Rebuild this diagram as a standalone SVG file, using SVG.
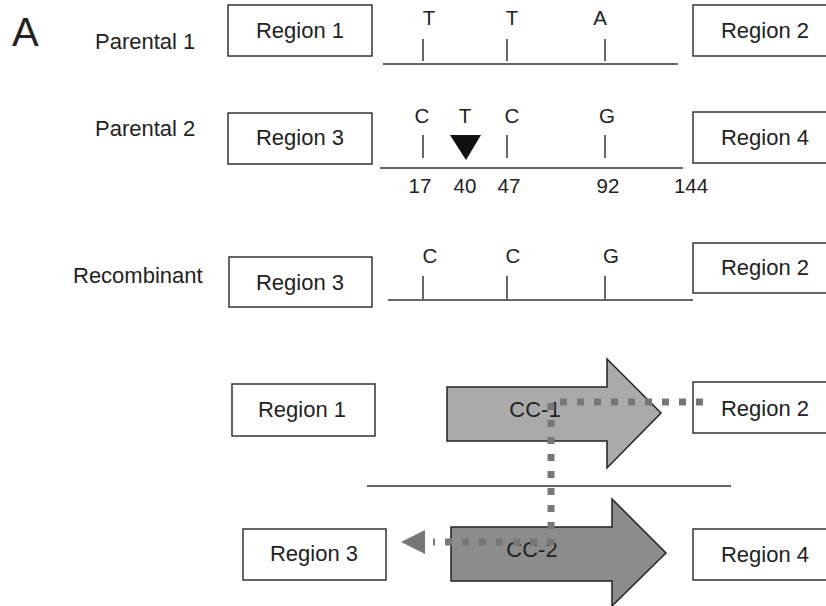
<svg xmlns="http://www.w3.org/2000/svg" width="826" height="606" viewBox="0 0 826 606">
<style>
text{font-family:"Liberation Sans",Arial,sans-serif;fill:#222}
.lbl{font-size:22px}
.reg{font-size:22px;text-anchor:middle}
.nt{font-size:20.5px;text-anchor:middle}
.box{fill:#fff;stroke:#333;stroke-width:1.5}
.ln{stroke:#333;stroke-width:1.5;fill:none}
.dot{stroke:#777;stroke-width:7;stroke-dasharray:7 10;fill:none}
</style>
<rect width="826" height="606" fill="#fff"/>
<text x="12" y="46" style="font-size:40px">A</text>

<g id="row-p1">
<text class="lbl" x="95" y="49">Parental 1</text>
<g id="p1-region1"><rect class="box" x="228" y="5" width="144" height="51"/><text class="reg" x="300" y="38">Region 1</text></g>
<line class="ln" x1="383" y1="64" x2="678" y2="64"/>
<line class="ln" x1="423" y1="39" x2="423" y2="61"/>
<line class="ln" x1="507" y1="39" x2="507" y2="61"/>
<line class="ln" x1="605" y1="39" x2="605" y2="61"/>
<text class="nt" x="429" y="25">T</text>
<text class="nt" x="512" y="25">T</text>
<text class="nt" x="600" y="25">A</text>
<g id="p1-region2"><rect class="box" x="693" y="5" width="140" height="51"/><text class="reg" x="765" y="38">Region 2</text></g>
</g>

<g id="row-p2">
<text class="lbl" x="95" y="136">Parental 2</text>
<g id="p2-region3"><rect class="box" x="228" y="113" width="144" height="51"/><text class="reg" x="300" y="145">Region 3</text></g>
<line class="ln" x1="380" y1="168" x2="683" y2="168"/>
<line class="ln" x1="423" y1="135" x2="423" y2="158"/>
<line class="ln" x1="507" y1="135" x2="507" y2="158"/>
<line class="ln" x1="605" y1="135" x2="605" y2="158"/>
<polygon points="450,135 481,135 466,160" fill="#111"/>
<text class="nt" x="422" y="123">C</text>
<text class="nt" x="465" y="123">T</text>
<text class="nt" x="512" y="123">C</text>
<text class="nt" x="607" y="123">G</text>
<text class="nt" x="420" y="193">17</text>
<text class="nt" x="465" y="193">40</text>
<text class="nt" x="509" y="193">47</text>
<text class="nt" x="608" y="193">92</text>
<text class="nt" x="691" y="193">144</text>
<g id="p2-region4"><rect class="box" x="693" y="112" width="140" height="51"/><text class="reg" x="765" y="145">Region 4</text></g>
</g>

<g id="row-rec">
<text class="lbl" x="73" y="283">Recombinant</text>
<g id="rec-region3"><rect class="box" x="229" y="257" width="143" height="50"/><text class="reg" x="300" y="290">Region 3</text></g>
<line class="ln" x1="388" y1="300" x2="693" y2="300"/>
<line class="ln" x1="423" y1="276" x2="423" y2="299"/>
<line class="ln" x1="507" y1="276" x2="507" y2="299"/>
<line class="ln" x1="605" y1="276" x2="605" y2="299"/>
<text class="nt" x="430" y="263">C</text>
<text class="nt" x="513" y="263">C</text>
<text class="nt" x="611" y="263">G</text>
<g id="rec-region2"><rect class="box" x="693" y="243" width="140" height="50"/><text class="reg" x="765" y="275">Region 2</text></g>
</g>

<g id="b-region1"><rect class="box" x="232" y="384" width="143" height="52"/><text class="reg" x="302" y="417">Region 1</text></g>
<g id="b-region2"><rect class="box" x="693" y="382" width="140" height="51"/><text class="reg" x="765" y="416">Region 2</text></g>
<g id="b-region3"><rect class="box" x="243" y="529" width="143" height="51"/><text class="reg" x="314" y="561">Region 3</text></g>
<g id="b-region4"><rect class="box" x="693" y="529" width="140" height="51"/><text class="reg" x="765" y="562">Region 4</text></g>

<line class="ln" x1="367" y1="486" x2="731" y2="486"/>

<g id="cc1">
<polygon points="447,387 607,387 607,359 661,413 607,468 607,441 447,441" fill="#aaa" stroke="#222" stroke-width="1.5"/>
<text class="reg" x="535" y="417">CC-1</text>
</g>
<g id="cc2">
<polygon points="451,527 612,527 612,499 666,553 612,606 612,581 451,581" fill="#8c8c8c" stroke="#222" stroke-width="1.5"/>
<text class="reg" x="532" y="557">CC-2</text>
</g>

<g id="connectors">
<path class="dot" d="M703,402 H551 V542 H433"/>
<polygon points="401,542 425,530 425,554" fill="#777"/>
</g>
</svg>
